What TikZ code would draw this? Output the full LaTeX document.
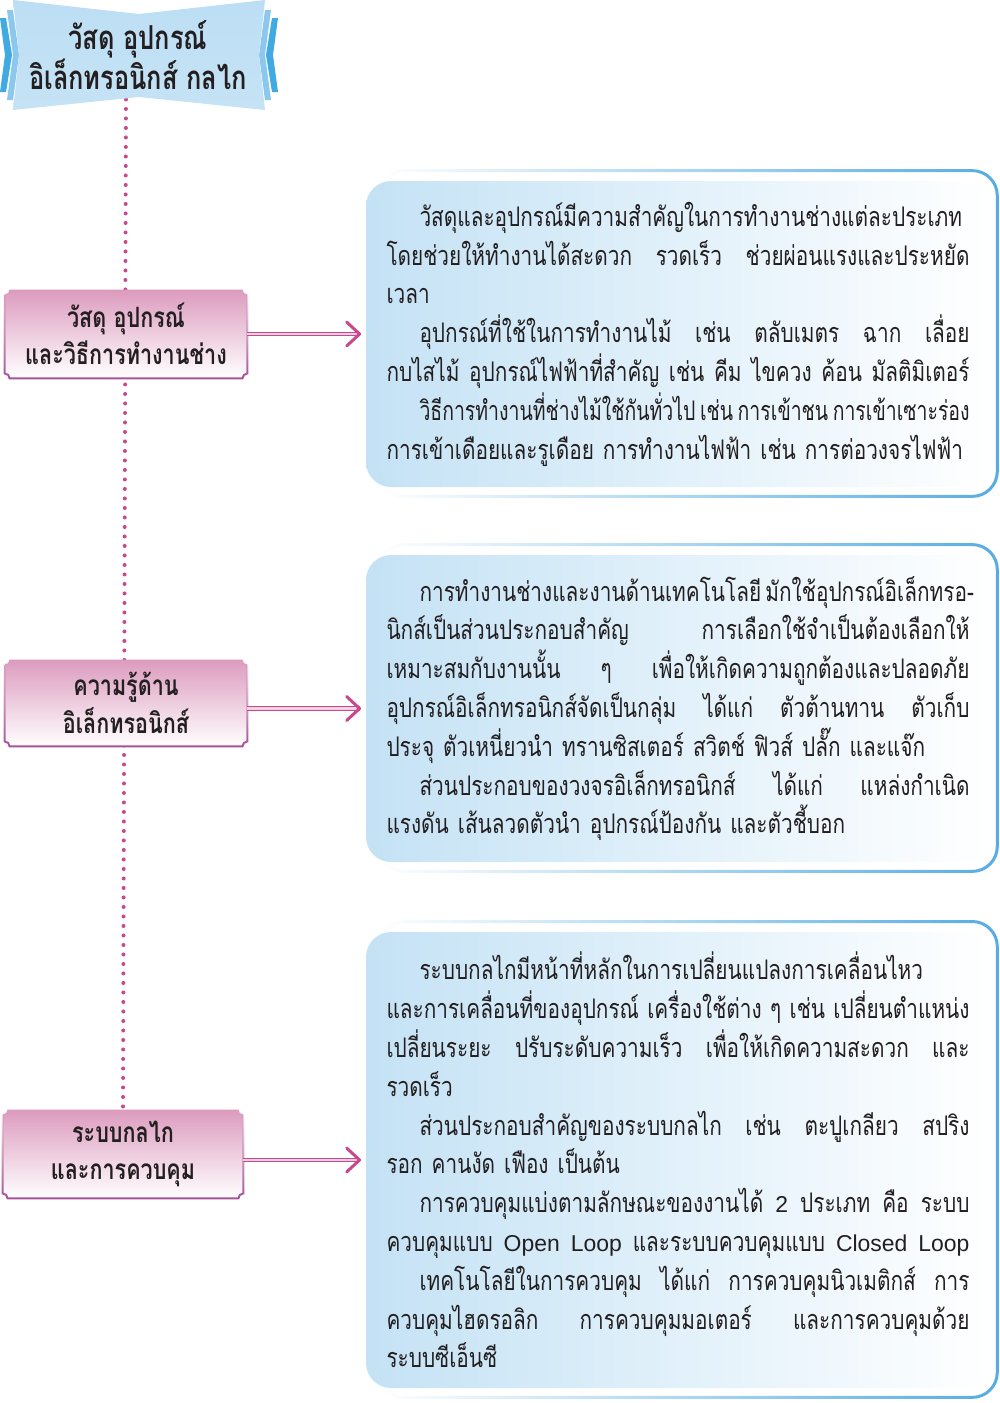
\documentclass[tikz,border=0pt]{standalone}
\usepackage{fontspec}
\newfontfamily\thai[Script=Thai, FakeStretch=0.77]{Loma}
\newfontfamily\thainarrow[Script=Thai, FakeStretch=0.72]{Loma}
\newfontfamily\latin[Scale=0.85]{Liberation Sans}
\usetikzlibrary{backgrounds,fadings,calc}

\definecolor{skyA}{RGB}{64,170,225}
\definecolor{skyB}{RGB}{140,200,238}
\definecolor{skyC}{RGB}{188,222,244}
\definecolor{boxblue}{RGB}{196,226,245}
\definecolor{rimblue}{RGB}{86,172,226}
\definecolor{labpink}{RGB}{220,155,190}
\definecolor{labrim}{RGB}{165,80,150}
\definecolor{arrpink}{RGB}{200,72,140}
\definecolor{inkgray}{RGB}{35,31,32}

\tikzfading[name=fadeleft, left color=transparent!100, middle color=transparent!70, right color=transparent!0]
\tikzfading[name=fadeup, top color=transparent!100, middle color=transparent!40, bottom color=transparent!0]

\newcommand\ttlfont{\thai\bfseries\fontsize{16.5}{20}\selectfont}
\newcommand\labfont{\thai\bfseries\fontsize{14}{18.75}\selectfont}
\newcommand\bodyfont{\thai\fontsize{13.5}{19.4}\selectfont}

\newlength\colw \setlength\colw{291.5pt}
\newlength\pind \setlength\pind{16.5pt}
\newcommand\flex{\spaceskip=\fontdimen2\font plus 1fil minus 0.4\fontdimen2\font\relax}
\newcommand\jline[1]{\hbox to\colw{\flex #1}}
\newcommand\iline[1]{\hbox to\colw{\flex\hskip\pind #1}}
\newcommand\eline[1]{\hbox to\colw{#1\hfil}}

\tikzset{
  head/.style={font=\ttlfont, text=inkgray, align=center, inner sep=0pt},
  lab/.style={font=\labfont, text=inkgray, align=center, inner sep=0pt,
    minimum width=121pt, minimum height=44pt},
  labshade/.style={top color=labpink, middle color=labpink!55!white, bottom color=white},
  labrimline/.style={draw=labrim, line width=1pt, path fading=fadeup},
  notch/.style={insert path={([xshift=2.5pt]#1.north west) -- ([xshift=-2.5pt]#1.north east)
    arc[start angle=180, end angle=270, radius=2.5pt] -- ([yshift=2.5pt]#1.south east)
    arc[start angle=90, end angle=180, radius=2.5pt] -- ([xshift=2.5pt]#1.south west)
    arc[start angle=0, end angle=90, radius=2.5pt] -- ([yshift=-2.5pt]#1.north west)
    arc[start angle=270, end angle=360, radius=2.5pt] -- cycle}},
  note/.style={left color=boxblue, right color=white, rounded corners=12.5pt,
    text width=\colw, inner xsep=10.25pt, inner ysep=0pt, minimum height=#1,
    font=\bodyfont, text=inkgray},
  rim/.style={draw=rimblue, line width=1.5pt, rounded corners=12.5pt, path fading=fadeleft},
  dotline/.style={draw=arrpink, line width=2pt, line cap=round, dash pattern=on 0pt off 4.75pt},
  shaft/.style={draw=arrpink, line width=0.5pt, double=arrpink!25, double distance=1.2pt},
  barb/.style={draw=arrpink, line width=1.5pt, line cap=round, line join=round}
}

\begin{document}
\begin{tikzpicture}[x=0.5pt, y=-0.5pt]
  \useasboundingbox (0,0) rectangle (1000,1403);

  % title banner
  \fill[skyA] (0,18) -- (6,18) -- (12,55) -- (6,92) -- (0,92) -- (5,55) -- cycle;
  \fill[skyA] (278,18) -- (272,18) -- (266,55) -- (272,92) -- (278,92) -- (273,55) -- cycle;
  \fill[skyB] (7,10) -- (13,10) -- (19,55) -- (13,100) -- (7,100) -- (13,55) -- cycle;
  \fill[skyB] (271,10) -- (265,10) -- (259,55) -- (265,100) -- (271,100) -- (265,55) -- cycle;
  \path[top color=skyC, middle color=white!80!skyC, bottom color=skyC!85]
    (13,0) -- (139,14) -- (265,0) -- (259,55) -- (265,110) -- (139,97) -- (13,110) -- (19,55) -- cycle;
  \node[head] (t) at (138,55) {วัสดุ อุปกรณ์\\อิเล็กทรอนิกส์ กลไก};

  \node[lab] (l1) at (126,334) {วัสดุ อุปกรณ์\\และวิธีการทำงานช่าง};
  \node[lab, minimum height=43pt] (l2) at (126,703) {ความรู้ด้าน\\อิเล็กทรอนิกส์};
  \node[lab, minimum width=120pt] (l3) at (123,1154) {ระบบกลไก\\และการควบคุม};

  \node[note=153pt] (b1) at (678,334) {%
    \iline{วัสดุและอุปกรณ์มีความสำคัญในการทำงานช่างแต่ละประเภท}
    \jline{โดยช่วยให้ทำงานได้สะดวก รวดเร็ว ช่วยผ่อนแรงและประหยัด}
    \eline{เวลา}
    \iline{อุปกรณ์ที่ใช้ในการทำงานไม้ เช่น ตลับเมตร ฉาก เลื่อย}
    \jline{กบไสไม้ อุปกรณ์ไฟฟ้าที่สำคัญ เช่น คีม ไขควง ค้อน มัลติมิเตอร์}
    \iline{\thainarrow วิธีการทำงานที่ช่างไม้ใช้กันทั่วไป เช่น การเข้าชน การเข้าเซาะร่อง}
    \eline{การเข้าเดือยและรูเดือย การทำงานไฟฟ้า เช่น การต่อวงจรไฟฟ้า}};
  \node[note=153.5pt] (b2) at (678,708.5) {%
    \iline{การทำงานช่างและงานด้านเทคโนโลยี มักใช้อุปกรณ์อิเล็กทรอ-}
    \jline{นิกส์เป็นส่วนประกอบสำคัญ การเลือกใช้จำเป็นต้องเลือกให้}
    \jline{เหมาะสมกับงานนั้น ๆ เพื่อให้เกิดความถูกต้องและปลอดภัย}
    \jline{อุปกรณ์อิเล็กทรอนิกส์จัดเป็นกลุ่ม ได้แก่ ตัวต้านทาน ตัวเก็บ}
    \eline{ประจุ ตัวเหนี่ยวนำ ทรานซิสเตอร์ สวิตช์ ฟิวส์ ปลั๊ก และแจ๊ก}
    \iline{ส่วนประกอบของวงจรอิเล็กทรอนิกส์ ได้แก่ แหล่งกำเนิด}
    \eline{แรงดัน เส้นลวดตัวนำ อุปกรณ์ป้องกัน และตัวชี้บอก}};
  \node[note=228pt] (b3) at (678,1160) {%
    \iline{ระบบกลไกมีหน้าที่หลักในการเปลี่ยนแปลงการเคลื่อนไหว}
    \jline{และการเคลื่อนที่ของอุปกรณ์ เครื่องใช้ต่าง ๆ เช่น เปลี่ยนตำแหน่ง}
    \jline{เปลี่ยนระยะ ปรับระดับความเร็ว เพื่อให้เกิดความสะดวก และ}
    \eline{รวดเร็ว}
    \iline{ส่วนประกอบสำคัญของระบบกลไก เช่น ตะปูเกลียว สปริง}
    \eline{รอก คานงัด เฟือง เป็นต้น}
    \iline{การควบคุมแบ่งตามลักษณะของงานได้ {\latin 2} ประเภท คือ ระบบ}
    \jline{ควบคุมแบบ {\latin Open Loop} และระบบควบคุมแบบ {\latin Closed Loop}}
    \iline{เทคโนโลยีในการควบคุม ได้แก่ การควบคุมนิวเมติกส์ การ}
    \jline{ควบคุมไฮดรอลิก การควบคุมมอเตอร์ และการควบคุมด้วย}
    \eline{ระบบซีเอ็นซี}};

  \foreach \b in {b1,b2,b3}
    \draw[rim] ([xshift=7pt,yshift=5pt]\b.north west) rectangle ([xshift=3.5pt,yshift=-4.5pt]\b.south east);

  \begin{scope}[on background layer]
    \draw[dotline] (l1.north |- t.south) -- (l3.north);
    \foreach \l in {l1,l2,l3} {
      \path[labshade, notch=\l];
      \path[labrimline, notch=\l];
    }
  \end{scope}

  \foreach \l/\b in {l1/b1,l2/b2,l3/b3} {
    \coordinate (tip) at ([xshift=-3pt]\b.west);
    \draw[shaft] (\l.east |- tip) -- (tip);
    \draw[barb] ([xshift=-6.5pt,yshift=6pt]tip) -- (tip) -- ([xshift=-6.5pt,yshift=-6pt]tip);
  }
\end{tikzpicture}
\end{document}
